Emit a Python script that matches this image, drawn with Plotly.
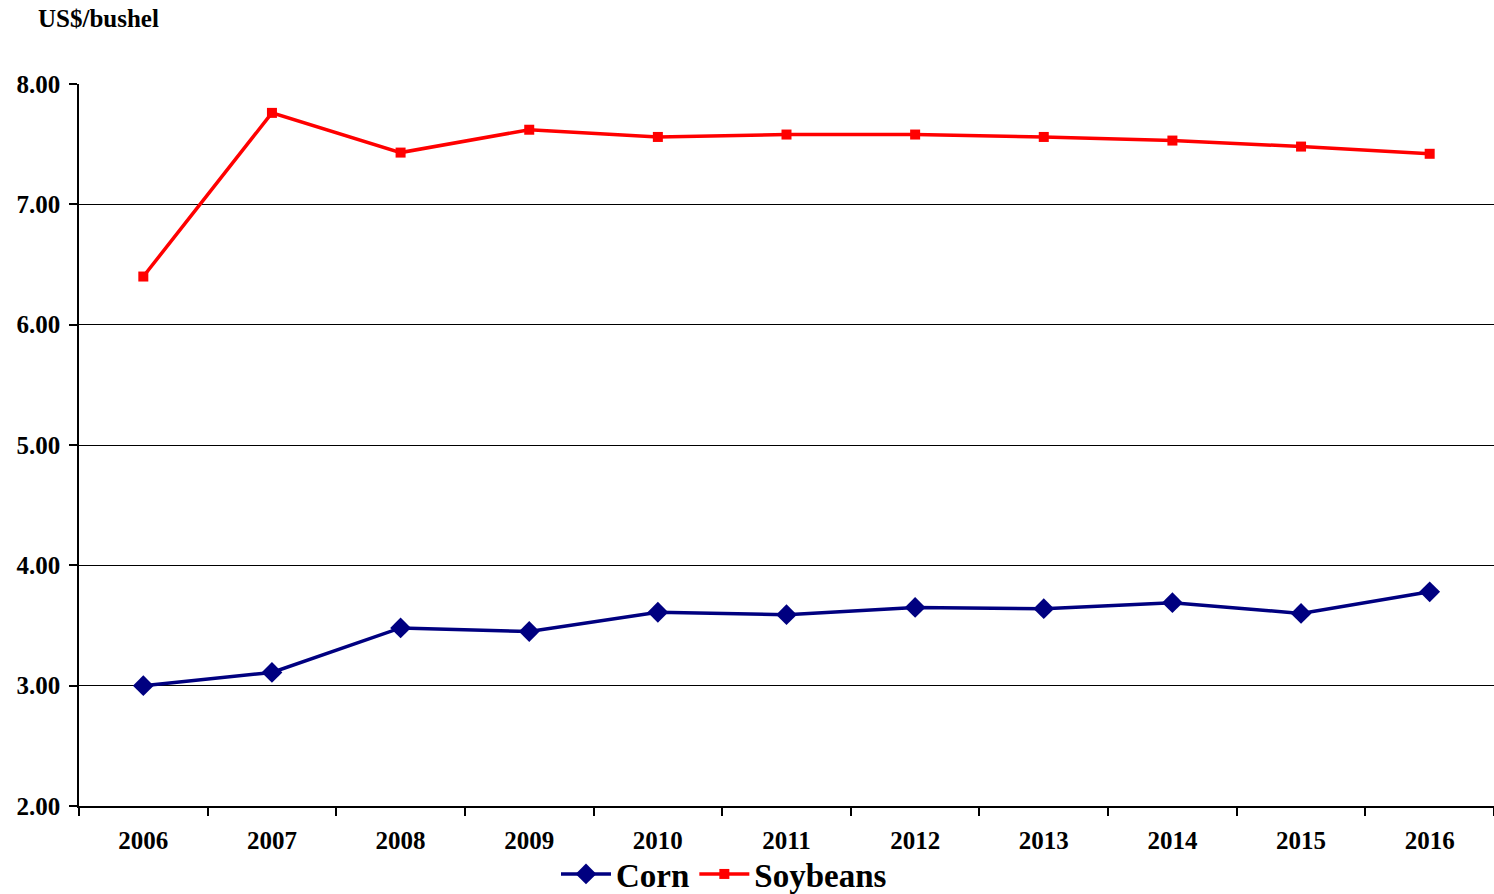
import plotly.graph_objects as go

years = ["2006", "2007", "2008", "2009", "2010", "2011", "2012", "2013", "2014", "2015", "2016"]
corn = [3.00, 3.11, 3.48, 3.45, 3.61, 3.59, 3.65, 3.64, 3.69, 3.60, 3.78]
soybeans = [6.40, 7.76, 7.43, 7.62, 7.56, 7.58, 7.58, 7.56, 7.53, 7.48, 7.42]
y_ticks = [2, 3, 4, 5, 6, 7, 8]

font_family = "Liberation Serif"
plot_w = 1494 - 79
plot_h = 894 - 84 - 88

fig = go.Figure()
fig.add_trace(go.Scatter(
    x=years, y=corn, name="Corn", mode="lines+markers",
    line=dict(color="#000080", width=3.5),
    marker=dict(symbol="diamond", size=16, color="#000080"),
))
fig.add_trace(go.Scatter(
    x=years, y=soybeans, name="Soybeans", mode="lines+markers",
    line=dict(color="#ff0000", width=3.5),
    marker=dict(symbol="square", size=10, color="#ff0000"),
))

fig.update_layout(
    width=1494, height=894,
    margin=dict(l=79, r=0, t=84, b=88, autoexpand=False),
    paper_bgcolor="white", plot_bgcolor="white",
    font=dict(family=font_family, size=25, color="black"),
    showlegend=True,
    legend=dict(
        orientation="h", x=(556 - 79) / plot_w, xanchor="left", xref="paper",
        y=-40 / plot_h, yanchor="top",
        bgcolor="rgba(0,0,0,0)",
        font=dict(family=font_family, size=33, color="black", weight="bold"),
        itemwidth=50, tracegroupgap=0,
    ),
    xaxis=dict(
        type="category", tickson="boundaries", ticks="outside", ticklen=8,
        tickcolor="black", tickwidth=1.5,
        showline=True, linecolor="black", linewidth=1.5,
        showgrid=False, ticklabelstandoff=11,
        tickfont=dict(family=font_family, size=25, color="black", weight="bold"),
        range=[-0.5, 10.5],
    ),
    yaxis=dict(
        range=[2, 8], tickvals=y_ticks,
        ticktext=[f"{v:.2f}" for v in y_ticks],
        ticks="outside", ticklen=8, tickcolor="black", tickwidth=1.5,
        showline=True, linecolor="black", linewidth=1.5,
        showgrid=True, gridcolor="black", gridwidth=1.2,
        zeroline=False, ticklabelstandoff=4,
        tickfont=dict(family=font_family, size=25, color="black", weight="bold"),
    ),
    annotations=[dict(
        text="US$/bushel", xref="paper", yref="paper",
        x=(36 - 79) / plot_w, y=1.0, xanchor="left", yanchor="bottom", yshift=50,
        showarrow=False,
        font=dict(family=font_family, size=25, color="black", weight="bold"),
    )],
)

fig.write_html("out.html")
